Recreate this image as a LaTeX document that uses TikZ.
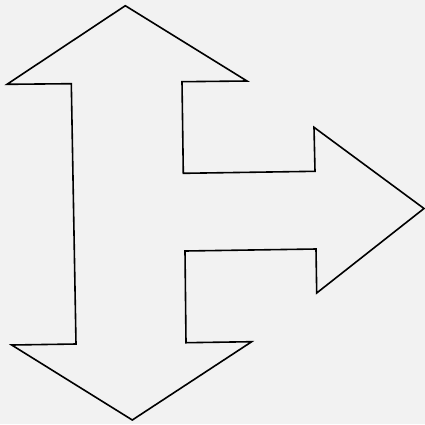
\documentclass[tikz,border=0pt]{standalone}
\usepackage{tikz}

\definecolor{bggray}{HTML}{F2F2F2}

\begin{document}
\begin{tikzpicture}[
  x=1pt, y=-1pt,
  outline/.style={draw=black, line width=1.6pt, line join=miter}
]
  % background and margins
  \fill[bggray] (0,0) rectangle (425,424);
  \useasboundingbox (0,0) rectangle (425,424);
  % three-way arrow
  \draw[outline] (125.3,5.7) -- (7,84.3) -- (71.3,83.7) -- (76,344)
    -- (11.7,345) -- (132.3,420) -- (251.7,341.7) -- (186,342.7)
    -- (185,251) -- (316,249) -- (316.7,293) -- (424,208.5)
    -- (314,127.3) -- (315,171.3) -- (183.3,173.3) -- (182,81.7)
    -- (247,81) -- cycle;
\end{tikzpicture}
\end{document}
